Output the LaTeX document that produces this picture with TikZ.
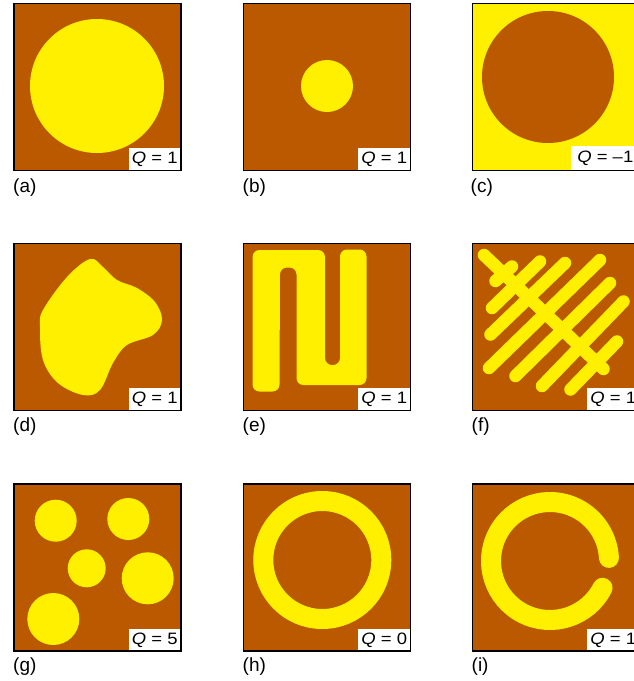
\documentclass[tikz,border=0pt]{standalone}
\usepackage{fontspec}
\setmainfont{Liberation Sans}
\usetikzlibrary{positioning}
\definecolor{soil}{RGB}{186,89,0}
\definecolor{gold}{RGB}{255,240,0}

\begin{document}
\begin{tikzpicture}[x=1pt, y=-1pt,
frame/.style={draw=black, line width=1.5pt},
qbox/.style={fill=white, inner sep=0pt, minimum width=52pt, minimum height=22pt, anchor=south east, font=\fontsize{16.5}{16.5}\selectfont},
tag/.style={anchor=west, inner sep=0pt, font=\fontsize{19}{19}\selectfont},
stripe/.style={draw=gold, line width=12.5pt, line cap=round},
ring/.style={draw=gold, line width=20pt},
]

\useasboundingbox (0,0) rectangle (634,681);
\clip (0,0) rectangle (634,681);

% (a) big disc
\begin{scope}[shift={(14,3.5)}]
\fill[soil] (0,0) rectangle (167,167);
\fill[gold] (83,82.5) circle[radius=67];
\node[qbox] (qa) at (167,167) {\scalebox{1.12}[1]{\textit{Q} = 1}};
\draw[frame] (0,0) rectangle (167,167);
\node[tag] (ta) at (-1,184.5) {(a)};
\end{scope}

% (b) small disc
\begin{scope}[shift={(243.5,3.5)}]
\fill[soil] (0,0) rectangle (167,167);
\fill[gold] (83.5,82.5) circle[radius=26];
\node[qbox] (qb) at (167,167) {\scalebox{1.12}[1]{\textit{Q} = 1}};
\draw[frame] (0,0) rectangle (167,167);
\node[tag] (tb) at (-1,184.5) {(b)};
\end{scope}

% (c) hole
\begin{scope}[shift={(472.5,3.5)}]
\fill[gold] (0,0) rectangle (167,167);
\fill[soil] (75.5,73.5) circle[radius=66];
\node[qbox, minimum width=68pt, minimum height=24pt] (qc) at (167,167) {\scalebox{1.12}[1]{\textit{Q} = –1}};
\draw[frame] (0,0) rectangle (167,167);
\node[tag] (tc) at (-2,184.5) {(c)};
\end{scope}

% (d) blob
\begin{scope}[shift={(14,243.5)}]
\fill[soil] (0,0) rectangle (167,167);
\fill[gold] plot[smooth cycle, tension=0.6] coordinates {
  (76,15.5) (53,33.5) (29,66.5) (26,83.5) (29,116.5) (44,139.5) (69,151.5)
  (86,146.5) (99,119.5) (113,101.5) (139,91.5) (148,76.5) (141,58.5)
  (123,44.5) (103,36.5) (89,23.5)};
\node[qbox] (qd) at (167,167) {\scalebox{1.12}[1]{\textit{Q} = 1}};
\draw[frame] (0,0) rectangle (167,167);
\node[tag] (td) at (-1,183) {(d)};
\end{scope}

% (e) meander
\begin{scope}[shift={(243.5,243.5)}]
\fill[soil] (0,0) rectangle (167,167);
\fill[gold, rounded corners=7pt] (9,148) -- (9,6.5) -- (81.5,6.5) -- (81.5,121.5)
  -- (96.5,121.5) -- (96.5,6) -- (123,6) -- (123,141.5) -- (53,141.5)
  -- (53,24) -- (36.5,24) -- (36,148) -- cycle;
\node[qbox] (qe) at (167,167) {\scalebox{1.12}[1]{\textit{Q} = 1}};
\draw[frame] (0,0) rectangle (167,167);
\node[tag] (te) at (-1,183) {(e)};
\end{scope}

% (f) grid of stripes
\begin{scope}[shift={(472.5,243.5)}]
\fill[soil] (0,0) rectangle (167,167);
\draw[stripe] (19.5,64.5) -- (67.5,18);
\draw[stripe] (18,91) -- (92.5,19.5);
\draw[stripe] (16.5,124.5) -- (127.5,16.5);
\draw[stripe] (43,132.5) -- (137.5,39.5);
\draw[stripe] (69.5,142.5) -- (151,58);
\draw[stripe] (98,146) -- (144.5,98);
\draw[stripe] (11.5,11.5) -- (131,125.5);
\draw[stripe] (23,37.5) -- (39.5,23);
\node[qbox] (qf) at (167,167) {\scalebox{1.12}[1]{\textit{Q} = 1}};
\draw[frame] (0,0) rectangle (167,167);
\node[tag] (tf) at (-1,183) {(f)};
\end{scope}

% (g) five discs
\begin{scope}[shift={(14,484)}]
\fill[soil] (0,0) rectangle (167,167);
\foreach \cx/\cy/\r in {41.7/36.7/21, 114.3/35/21, 72.7/84.3/19, 133.7/94.3/26, 39.3/135/26}
  \fill[gold] (\cx,\cy) circle[radius=\r];
\node[qbox] (qg) at (167,167) {\scalebox{1.12}[1]{\textit{Q} = 5}};
\draw[frame] (0,0) rectangle (167,167);
\node[tag] (tg) at (-1,183) {(g)};
\end{scope}

% (h) closed ring
\begin{scope}[shift={(243.5,484)}]
\fill[soil] (0,0) rectangle (167,167);
\draw[ring] (78.8,76) circle[radius=59];
\node[qbox] (qh) at (167,167) {\scalebox{1.12}[1]{\textit{Q} = 0}};
\draw[frame] (0,0) rectangle (167,167);
\node[tag] (th) at (-1,183) {(h)};
\end{scope}

% (i) open ring
\begin{scope}[shift={(472.5,484)}]
\fill[soil] (0,0) rectangle (167,167);
\draw[ring, line cap=round] (77.5,77) ++(27:59) arc[start angle=27, end angle=357, radius=59];
\node[qbox] (qi) at (167,167) {\scalebox{1.12}[1]{\textit{Q} = 1}};
\draw[frame] (0,0) rectangle (167,167);
\node[tag] (ti) at (-1,183) {(i)};
\end{scope}

\end{tikzpicture}
\end{document}
